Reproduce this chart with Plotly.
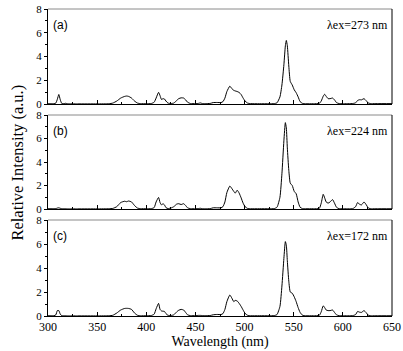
import plotly.graph_objects as go

wavelength = [300, 306, 308, 309.5, 311, 312.5, 314, 316, 318, 320, 330, 350, 362, 366, 370, 374, 378, 380, 382, 385, 388, 391, 394,
              400, 405, 408, 410, 412.5, 414, 415.5, 417, 418.5, 420, 422, 425, 428, 431, 433, 435.5, 438, 440, 442, 445,
              450, 453, 455, 457, 460, 465, 468, 472, 476, 478, 480, 482, 485, 487, 489, 490.5, 492.5, 494.5, 496.5, 498.5,
              500.5, 503, 506, 515, 525, 530, 533, 536, 538, 540, 541.5, 542.5, 543.5, 545, 546.5, 548.5, 550.5, 552.5,
              554.5, 556.5, 559, 562, 570, 576, 578, 580, 581.5, 583, 585, 587, 589.5, 591.5, 593.5, 596, 600, 610, 613,
              615, 617, 619, 621.5, 623.5, 626, 629, 635, 650]

int_273 = [0.02, 0.02, 0.08, 0.4, 0.8, 0.35, 0.05, 0.03, 0.06, 0.02, 0.01, 0.01, 0.02, 0.08, 0.25, 0.5, 0.64, 0.67, 0.64, 0.5, 0.25, 0.08, 0.03,
           0.02, 0.04, 0.15, 0.5, 0.98, 0.7, 0.38, 0.45, 0.42, 0.25, 0.08, 0.04, 0.08, 0.3, 0.45, 0.52, 0.5, 0.35, 0.15, 0.04,
           0.03, 0.05, 0.09, 0.04, 0.03, 0.05, 0.12, 0.13, 0.12, 0.2, 0.5, 1.05, 1.5, 1.3, 1.15, 1.1, 1.05, 0.97, 0.8, 0.5,
           0.25, 0.08, 0.03, 0.02, 0.02, 0.03, 0.1, 0.6, 1.6, 3.3, 4.9, 5.35, 4.9, 3.2, 1.9, 1.6, 1.2, 0.95,
           0.6, 0.2, 0.05, 0.02, 0.02, 0.05, 0.25, 0.65, 0.82, 0.65, 0.45, 0.45, 0.5, 0.35, 0.12, 0.04, 0.02, 0.04, 0.1,
           0.3, 0.36, 0.35, 0.45, 0.3, 0.08, 0.03, 0.03, 0.03]

int_224 = [0.02, 0.02, 0.03, 0.08, 0.1, 0.06, 0.02, 0.02, 0.02, 0.01, 0.01, 0.01, 0.02, 0.05, 0.2, 0.55, 0.66, 0.62, 0.68, 0.6, 0.3, 0.08, 0.03,
           0.02, 0.03, 0.12, 0.6, 0.98, 0.55, 0.35, 0.45, 0.35, 0.12, 0.04, 0.08, 0.2, 0.42, 0.45, 0.38, 0.45, 0.3, 0.1, 0.03,
           0.02, 0.04, 0.06, 0.03, 0.02, 0.03, 0.1, 0.1, 0.1, 0.2, 0.6, 1.4, 1.95, 1.75, 1.5, 1.35, 1.6, 1.35, 0.95, 0.5,
           0.2, 0.05, 0.02, 0.02, 0.02, 0.03, 0.15, 1.0, 3.0, 5.8, 7.35, 6.9, 5.2, 3.3, 2.2, 2.0, 1.5, 1.3,
           0.6, 0.15, 0.03, 0.02, 0.02, 0.05, 0.5, 1.25, 0.95, 0.6, 0.5, 0.6, 0.8, 0.5, 0.15, 0.03, 0.02, 0.03, 0.2,
           0.55, 0.4, 0.35, 0.6, 0.4, 0.08, 0.02, 0.02, 0.02]

int_172 = [0.02, 0.02, 0.1, 0.45, 0.45, 0.15, 0.03, 0.02, 0.02, 0.01, 0.01, 0.01, 0.02, 0.06, 0.25, 0.5, 0.63, 0.64, 0.63, 0.55, 0.25, 0.06, 0.02,
           0.02, 0.04, 0.15, 0.6, 1.05, 0.55, 0.42, 0.4, 0.38, 0.2, 0.06, 0.04, 0.1, 0.35, 0.48, 0.55, 0.5, 0.3, 0.1, 0.03,
           0.03, 0.05, 0.05, 0.04, 0.03, 0.04, 0.1, 0.13, 0.12, 0.2, 0.55, 1.2, 1.75, 1.5, 1.2, 1.3, 1.25, 1.05, 0.8, 0.5,
           0.22, 0.06, 0.02, 0.02, 0.02, 0.03, 0.12, 0.8, 2.5, 4.8, 6.2, 5.9, 4.6, 2.9, 2.0, 1.9, 1.6, 1.2,
           0.7, 0.3, 0.06, 0.02, 0.02, 0.05, 0.35, 0.85, 0.7, 0.5, 0.45, 0.45, 0.5, 0.3, 0.1, 0.03, 0.02, 0.03, 0.12,
           0.38, 0.32, 0.3, 0.45, 0.3, 0.06, 0.02, 0.02, 0.02]

series = [int_273, int_224, int_172]
panel_labels = ["(a)", "(b)", "(c)"]
excitation_labels = ["\u03bbex=273 nm", "\u03bbex=224 nm", "\u03bbex=172 nm"]
x_ticks = [300, 350, 400, 450, 500, 550, 600, 650]
y_ticks = [0, 2, 4, 6, 8]

W, H = 403, 351
ml, mr, mt, mb = 48, 11, 9, 35
ph = H - mt - mb
panels_px = [(9, 104), (115, 209), (220, 316)]
domains = [[(316 - b) / ph, (316 - t) / ph] for t, b in panels_px]

serif = "Times New Roman"
sans = "Arial"

fig = go.Figure()
for i, ys in enumerate(series):
    n = "" if i == 0 else str(i + 1)
    fig.add_trace(go.Scatter(x=wavelength, y=ys, mode="lines",
                             line=dict(color="black", width=1, shape="spline", smoothing=0.5),
                             xaxis="x" + n, yaxis="y" + n, showlegend=False, hoverinfo="skip"))
    last = (i == 2)
    fig.layout["xaxis" + n] = dict(
        domain=[0, 1], range=[300, 650], anchor="y" + n, automargin=False,
        tickvals=x_ticks, showticklabels=last, ticks="inside", ticklen=4, tickcolor="black",
        minor=dict(ticks="inside", ticklen=2, dtick=25, tickcolor="black"),
        showline=True, linecolor="black", linewidth=1, mirror=False, showgrid=False, zeroline=False,
        tickfont=dict(family=serif, size=12, color="black"),
        title=dict(text="Wavelength (nm)" if last else "", font=dict(family=serif, size=14, color="black"), standoff=0),
    )
    fig.layout["yaxis" + n] = dict(
        domain=domains[i], range=[0, 8], anchor="x" + n, automargin=False,
        tickvals=y_ticks, ticks="outside", ticklen=3, tickcolor="black",
        minor=dict(ticks="outside", ticklen=2, dtick=1, tickcolor="black"),
        showline=True, linecolor="black", linewidth=1, mirror=False, showgrid=False, zeroline=False,
        tickfont=dict(family=serif, size=11, color="black"),
    )
    xr = "x" + n + " domain"
    yr = "y" + n + " domain"
    fig.add_shape(type="line", xref=xr, yref=yr, x0=0, x1=1, y0=1, y1=1, line=dict(color="#8a8a8a", width=1))
    fig.add_shape(type="line", xref=xr, yref=yr, x0=1, x1=1, y0=0, y1=1, line=dict(color="black", width=1))
    fig.add_annotation(text=panel_labels[i], xref=xr, yref=yr, x=0.01, y=0.93, xanchor="left", yanchor="top",
                       showarrow=False, font=dict(family=sans, size=12, color="black"))
    fig.add_annotation(text=excitation_labels[i], xref=xr, yref=yr, x=0.995, y=0.93, xanchor="right", yanchor="top",
                       showarrow=False, font=dict(family=serif, size=12, color="black"))

fig.add_annotation(text="Relative Intensity (a.u.)", xref="paper", yref="paper", x=-0.09, y=0.5,
                   textangle=-90, showarrow=False, xanchor="center", yanchor="middle",
                   font=dict(family=serif, size=16.5, color="black"))

fig.update_layout(width=W, height=H, margin=dict(l=ml, r=mr, t=mt, b=mb, autoexpand=False),
                  plot_bgcolor="white", paper_bgcolor="white")
fig.write_html("out.html")
